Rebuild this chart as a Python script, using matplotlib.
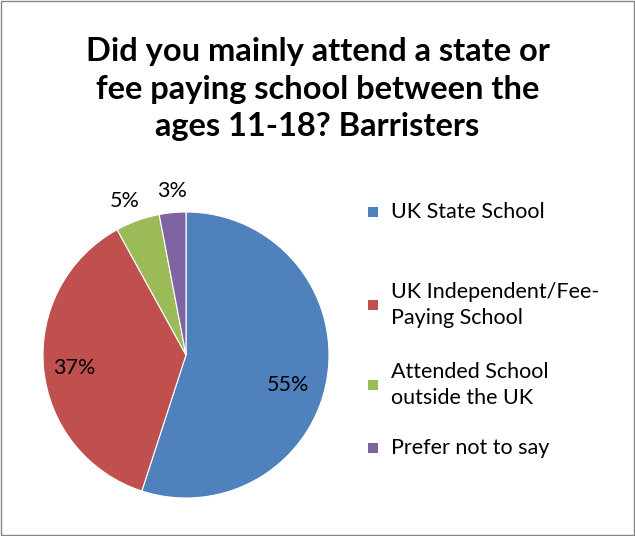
import matplotlib.pyplot as plt
from matplotlib.patches import Rectangle

categories = ['UK State School', 'UK Independent/Fee-\nPaying School',
              'Attended School\noutside the UK', 'Prefer not to say']
shares = [55, 37, 5, 3]
pct_labels = ['55%', '37%', '5%', '3%']
colors = ['#4F81BD', '#C0504D', '#9BBB59', '#8064A2']
# label positions in pie units (Excel "best fit" placement)
label_xy = [(0.71, -0.21), (-0.78, -0.09), (-0.43, 1.08), (-0.10, 1.15)]

plt.rcParams['font.family'] = ['Lato', 'DejaVu Sans']

fig = plt.figure(figsize=(6.35, 5.36), dpi=100)
fig.patches.append(Rectangle((0.002, 0.002), 0.996, 0.996, transform=fig.transFigure,
                             fill=False, edgecolor='#868686', linewidth=1))

fig.text(0.5, 1 - 89 / 536, 'Did you mainly attend a state or\nfee paying school between the\nages 11-18? Barristers',
         ha='center', va='center', fontsize=23.5, fontweight='bold', linespacing=1.36)

ax = fig.add_axes([0.0677, 0.0709, 0.4504, 0.5336])
ax.pie(shares, colors=colors, startangle=90, counterclock=False, radius=1,
       wedgeprops={'edgecolor': 'white', 'linewidth': 0.8})
for (x, y), t in zip(label_xy, pct_labels):
    ax.text(x, y, t, ha='center', va='center', fontsize=15.5)
ax.set_xlim(-1, 1)
ax.set_ylim(-1, 1)
ax.set_aspect('auto')
ax.axis('off')

# legend drawn by hand to match Excel layout
ys = [212, 305, 385, 448]
for c, lab, y in zip(colors, categories, ys):
    fig.patches.append(Rectangle((368 / 635, 1 - (y + 5) / 536), 10 / 635, 10 / 536,
                                 transform=fig.transFigure, facecolor=c, edgecolor='none'))
    fig.text(391 / 635, 1 - y / 536, lab, ha='left', va='center', fontsize=15.5, linespacing=1.35)

fig.savefig('out.png', dpi=100)
